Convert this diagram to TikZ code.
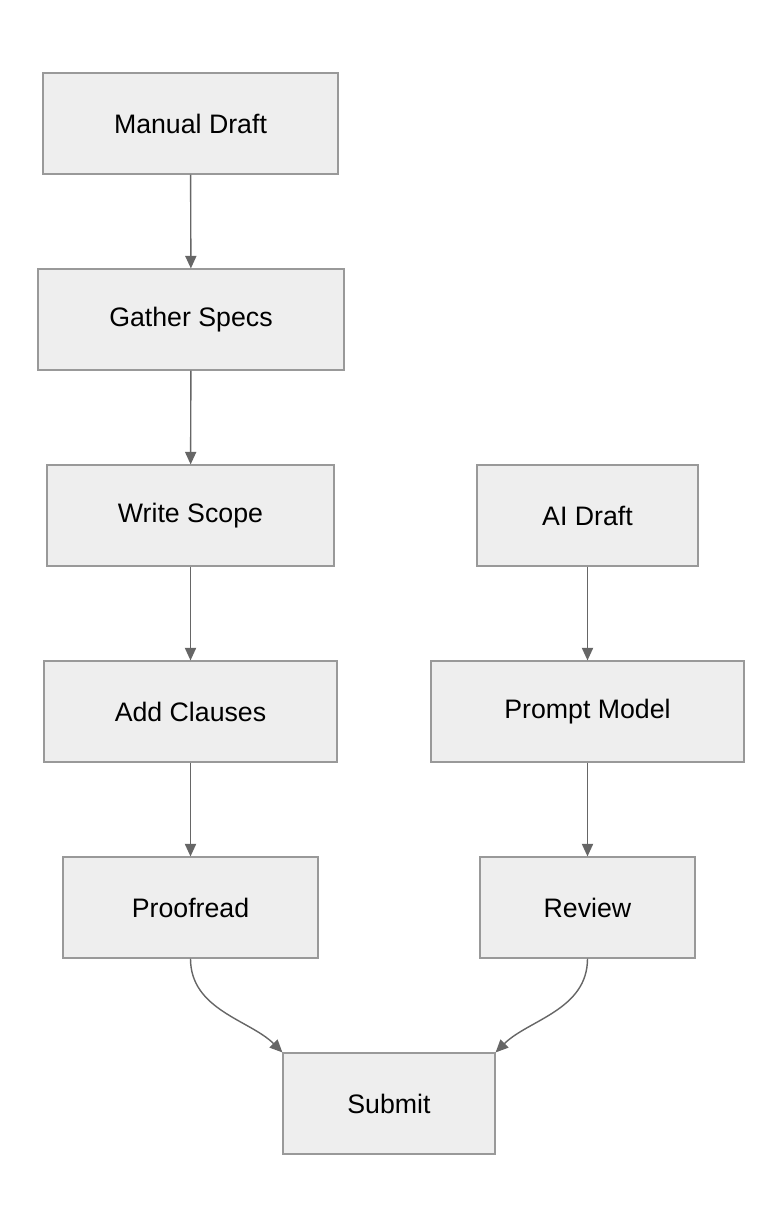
\documentclass[tikz,border=0pt]{standalone}
\usepackage{fontspec}
\setmainfont{Liberation Sans}
\usetikzlibrary{arrows.meta}
\definecolor{boxfill}{HTML}{EEEEEE}
\definecolor{boxline}{HTML}{999999}
\definecolor{linkline}{HTML}{666666}
\begin{document}
\begin{tikzpicture}[
  x=0.025cm, y=-0.025cm,
  stage/.style={rectangle, draw=boxline, fill=boxfill, line width=0.8pt, minimum height=2.525cm, font=\fontsize{19}{23}\selectfont},
  link/.style={-{Triangle[length=9pt,width=8pt]}, draw=linkline, line width=1pt}
]
\useasboundingbox (0,0) rectangle (782,1228);

% Manual path
\node[stage, minimum width=7.375cm] (manual) at (190.5,123.5) {Manual Draft};
\node[stage, minimum width=7.65cm] (gather) at (191,319.5) {Gather Specs};
\node[stage, minimum width=7.175cm] (scope) at (190.5,515.5) {Write Scope};
\node[stage, minimum width=7.325cm] (clauses) at (190.5,711.5) {Add Clauses};
\node[stage, minimum width=6.375cm] (proof) at (190.5,907.5) {Proofread};

% AI path
\node[stage, minimum width=5.525cm] (ai) at (587.5,515.5) {AI Draft};
\node[stage, minimum width=7.825cm] (prompt) at (587.5,711.5) {Prompt Model};
\node[stage, minimum width=5.375cm] (review) at (587.5,907.5) {Review};

\node[stage, minimum width=5.3cm] (submit) at (389,1103.5) {Submit};

\draw[link] (manual) -- (gather);
\draw[link] (gather) -- (scope);
\draw[link] (scope) -- (clauses);
\draw[link] (clauses) -- (proof);
\draw[link] (ai) -- (prompt);
\draw[link] (prompt) -- (review);
\draw[link] (proof.south) .. controls (190.5,1010) and (250,1020) .. (submit.north west);
\draw[link] (review.south) .. controls (587.5,1010) and (528,1020) .. (submit.north east);
\end{tikzpicture}
\end{document}
